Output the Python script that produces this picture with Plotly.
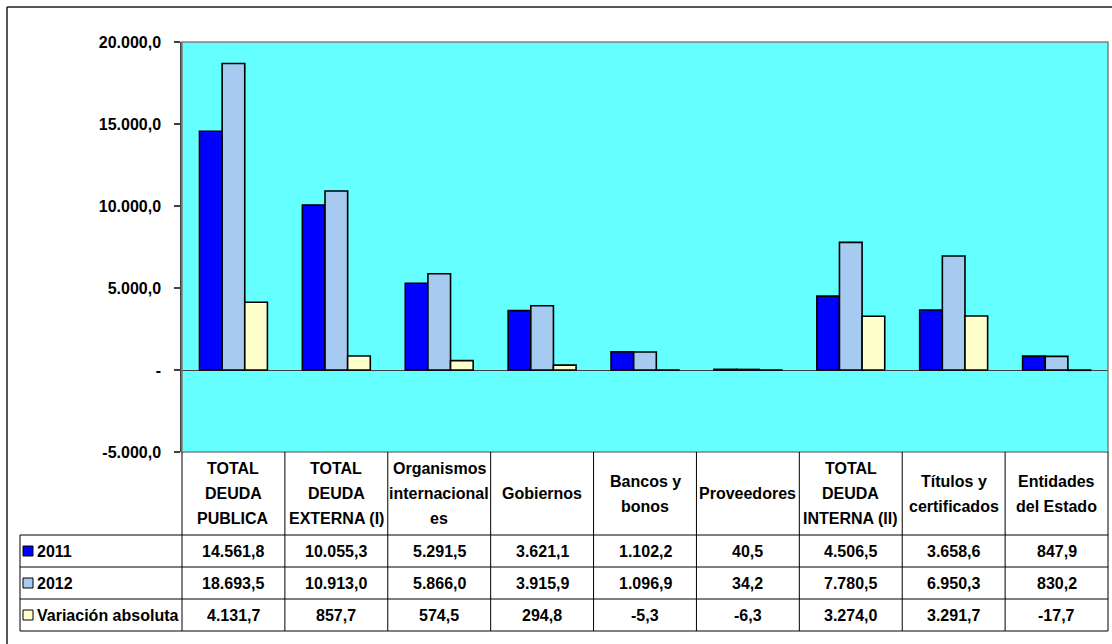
import plotly.graph_objects as go

# ---------------- data ----------------
category_lines = [
    ["TOTAL", "DEUDA", "PUBLICA"],
    ["TOTAL", "DEUDA", "EXTERNA (I)"],
    ["Organismos", "internacional", "es"],
    ["Gobiernos"],
    ["Bancos y", "bonos"],
    ["Proveedores"],
    ["TOTAL", "DEUDA", "INTERNA (II)"],
    ["Títulos y", "certificados"],
    ["Entidades", "del Estado"],
]
vals_2011 = [14561.8, 10055.3, 5291.5, 3621.1, 1102.2, 40.5, 4506.5, 3658.6, 847.9]
vals_2012 = [18693.5, 10913.0, 5866.0, 3915.9, 1096.9, 34.2, 7780.5, 6950.3, 830.2]
vals_var = [4131.7, 857.7, 574.5, 294.8, -5.3, -6.3, 3274.0, 3291.7, -17.7]
series_names = ["2011", "2012", "Variación absoluta"]
series_colors = ["#0000FF", "#A6CAF0", "#FFFFCC"]
y_ticks = [-5000, 0, 5000, 10000, 15000, 20000]
y_tick_labels = ["-5.000,0", "-", "5.000,0", "10.000,0", "15.000,0", "20.000,0"]

# ---------------- layout helpers (pixel -> paper) ----------------
W, H = 1112, 644
PL, PR, PT, PB = 182, 1108, 42, 452
def X(px):
    return (px - PL) / (PR - PL)
def Y(py):
    return (PB - py) / (PB - PT)

FONT = "Liberation Sans, Arial, sans-serif"
TXT = 16
categories = [" ".join(l) for l in category_lines]
series_vals = [vals_2011, vals_2012, vals_var]

def fmt(v):
    s = f"{v:,.1f}"
    return s.replace(",", "X").replace(".", ",").replace("X", ".")

fig = go.Figure()
for name, vals, col in zip(series_names, series_vals, series_colors):
    fig.add_trace(go.Bar(
        x=categories, y=vals, name=name,
        marker=dict(color=col, line=dict(color="#000000", width=1.6)),
        showlegend=False,
    ))

shapes = []
annotations = []
line_col = "#000000"

# outer chart border (top and left)
shapes.append(dict(type="line", xref="paper", yref="paper",
                   x0=X(7), x1=X(W), y0=Y(7), y1=Y(7),
                   line=dict(color="#202020", width=1.5)))
shapes.append(dict(type="line", xref="paper", yref="paper",
                   x0=X(7), x1=X(7), y0=Y(7), y1=Y(H),
                   line=dict(color="#202020", width=1.5)))
# plot area border
shapes.append(dict(type="rect", xref="paper", yref="paper",
                   x0=0, x1=1, y0=0, y1=1,
                   line=dict(color="#808080", width=1.5), layer="above"))

# table geometry
n = len(categories)
col_w = (PR - PL) / n
row_edges = [535, 567, 599, 631]
header_center = (PB + row_edges[0]) / 2
row_centers = [(row_edges[i] + row_edges[i + 1]) / 2 for i in range(3)]
TL = 20

# vertical lines (category columns)
for i in range(n + 1):
    px = PL + i * col_w
    shapes.append(dict(type="line", xref="paper", yref="paper",
                       x0=X(px), x1=X(px), y0=Y(PB), y1=Y(row_edges[-1]),
                       line=dict(color=line_col, width=1)))
# legend column left edge
shapes.append(dict(type="line", xref="paper", yref="paper",
                   x0=X(TL), x1=X(TL), y0=Y(row_edges[0]), y1=Y(row_edges[-1]),
                   line=dict(color=line_col, width=1)))
# horizontal lines
for ry in row_edges:
    shapes.append(dict(type="line", xref="paper", yref="paper",
                       x0=X(TL), x1=X(PR), y0=Y(ry), y1=Y(ry),
                       line=dict(color=line_col, width=1)))

# header text
spacing = 25
for i, lines in enumerate(category_lines):
    cx = PL + (i + 0.5) * col_w
    k = len(lines)
    for j, t in enumerate(lines):
        cy = header_center + (j - (k - 1) / 2) * spacing
        annotations.append(dict(xref="paper", yref="paper", x=X(cx), y=Y(cy),
                                text=f"<b>{t}</b>", showarrow=False,
                                xanchor="center", yanchor="middle",
                                font=dict(family=FONT, size=TXT, color="#000000")))

# row labels with colour keys and values
for r, (name, vals, col) in enumerate(zip(series_names, series_vals, series_colors)):
    cy = row_centers[r]
    shapes.append(dict(type="rect", xref="paper", yref="paper",
                       x0=X(23), x1=X(33), y0=Y(cy - 5), y1=Y(cy + 5),
                       fillcolor=col, line=dict(color="#000000", width=1)))
    annotations.append(dict(xref="paper", yref="paper", x=X(35), y=Y(cy),
                            text=f"<b>{name}</b>", showarrow=False,
                            xanchor="left", yanchor="middle",
                            font=dict(family=FONT, size=TXT, color="#000000")))
    for i, v in enumerate(vals):
        cx = PL + (i + 0.5) * col_w
        annotations.append(dict(xref="paper", yref="paper", x=X(cx), y=Y(cy),
                                text=f"<b>{fmt(v)}</b>", showarrow=False,
                                xanchor="center", yanchor="middle",
                                font=dict(family=FONT, size=TXT, color="#000000")))

fig.update_layout(
    width=W, height=H,
    margin=dict(l=PL, r=W - PR, t=PT, b=H - PB, pad=0),
    paper_bgcolor="#FFFFFF",
    plot_bgcolor="#66FFFF",
    barmode="group",
    bargap=0.34,
    bargroupgap=0,
    shapes=shapes,
    annotations=annotations,
    showlegend=False,
    xaxis=dict(showticklabels=False, showgrid=False, zeroline=False,
               showline=False, ticks="", range=[-0.5, n - 0.5]),
    yaxis=dict(range=[-5000, 20000], tickvals=y_ticks,
               ticktext=[f"<b>{t}</b>" for t in y_tick_labels],
               tickfont=dict(family=FONT, size=16, color="#000000"),
               ticklabelstandoff=10,
               showgrid=False, zeroline=True, zerolinecolor="#404040",
               zerolinewidth=1, showline=True, linecolor="#404040",
               linewidth=1.5, ticks="outside", ticklen=6,
               tickcolor="#404040", tickwidth=1.5),
)

fig.write_html("out.html",
               config={"displayModeBar": False},
               post_script="document.body.style.margin='0';document.body.style.overflow='hidden';")
